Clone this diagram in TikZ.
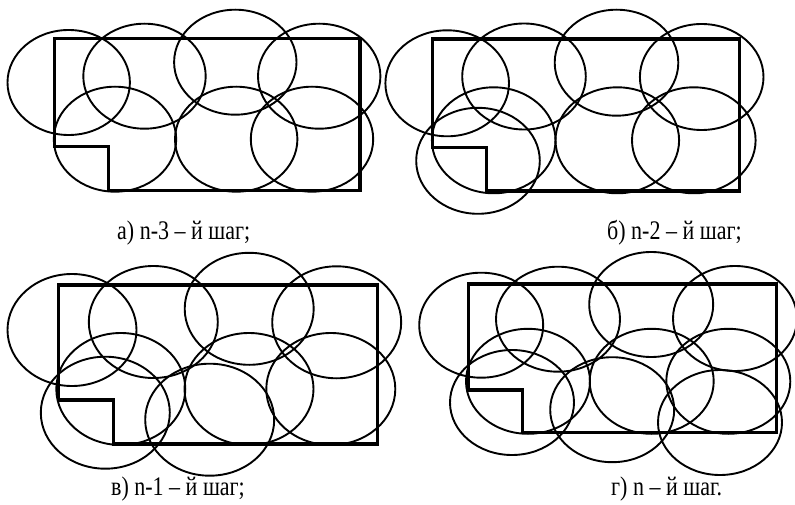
\documentclass[tikz,border=0pt]{standalone}
\usepackage{fontspec}
\setmainfont{Liberation Serif}
\newcommand{\capbox}[1]{\scalebox{1}[1.22]{#1}}
\begin{document}
\begin{tikzpicture}[x=1pt,y=-1pt,
  ell/.style={line width=1.9pt},
  area/.style={line width=3.2pt,line join=miter},
  captext/.style={anchor=west,inner sep=0pt,font=\fontsize{22}{24}\selectfont}]
\useasboundingbox (0,0) rectangle (795,505);
% panel a
\draw[area] (54.3,38.3) -- (360,38.3) -- (360,190.7) -- (108.3,190.7) -- (108.3,146.7) -- (54.3,146.7) -- cycle;
\foreach \x/\y in {68.7/82.5,144.5/76.2,235.3/62.2,319.2/76.2,115/139.2,236.2/139.2,312/139.2}
  \draw[ell] (\x,\y) ellipse [x radius=61.2, y radius=52.5];
% panel b
\draw[area] (432.7,39) -- (739.3,39) -- (739.3,191) -- (486.7,191) -- (486.7,147.3) -- (432.7,147.3) -- cycle;
\foreach \x/\y in {447.2/83.3,524/76.5,616.5/62.7,701.7/77,493.7/140.3,617.3/140.3,693.8/140.3,478/160.8}
  \draw[ell] (\x,\y) ellipse [x radius=61.8, y radius=53];
% panel c
\draw[area] (58.3,285) -- (377.7,285) -- (377.7,444) -- (113.3,444) -- (113.3,400) -- (58.3,400) -- cycle;
\foreach \x/\y in {72/330,153.3/322,249.2/308.8,336.7/322.3,120.8/389,249/389,330.8/389,105.3/412.7,209.7/419.7}
  \draw[ell] (\x,\y) ellipse [x radius=64.5, y radius=56];
% panel d
\draw[area] (468.3,284) -- (776.5,284) -- (776.5,432.5) -- (522.3,432.5) -- (522.3,390) -- (468.3,390) -- cycle;
\foreach \x/\y in {481.2/325.2,558/319.2,651.2/304.5,735/318.5,528/381.3,651.7/381.3,728.3/381.3,512/402.5,612.2/409.7,720/422.5}
  \draw[ell] (\x,\y) ellipse [x radius=62, y radius=52.5];
% captions
\node[captext] (la) at (117,233) {\capbox{а) n-3 – й шаг;}};
\node[captext] (lb) at (607,233) {\capbox{б) n-2 – й шаг;}};
\node[captext] (lc) at (111,489) {\capbox{в) n-1 – й шаг;}};
\node[captext] (ld) at (611,489) {\capbox{г) n – й шаг.}};
\end{tikzpicture}
\end{document}
